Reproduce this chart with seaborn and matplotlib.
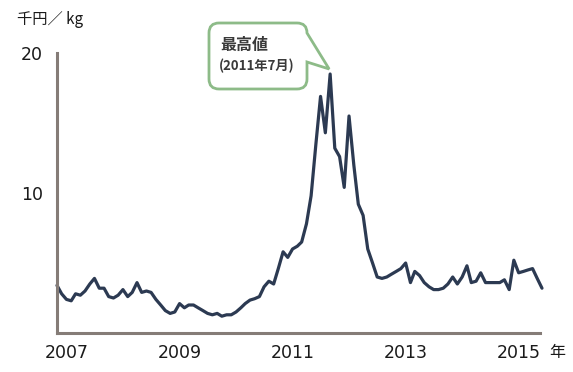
import numpy as np
import pandas as pd
import matplotlib
matplotlib.use("Agg")
import matplotlib.pyplot as plt
import matplotlib.dates as mdates
import matplotlib.patches as mpatches
from matplotlib import font_manager
from matplotlib.path import Path
from matplotlib.transforms import IdentityTransform
import seaborn as sns

# Monthly price, thousand yen per kg, Nov 2006 - Jun 2015
start_month = "2006-11"
price = [
    3.4, 2.8, 2.4, 2.3, 2.8, 2.7, 3.0, 3.5, 3.9, 3.2,
    3.2, 2.6, 2.5, 2.7, 3.1, 2.6, 2.9, 3.6, 2.9, 3.0,
    2.9, 2.4, 2.0, 1.6, 1.4, 1.5, 2.1, 1.8, 2.0, 2.0,
    1.8, 1.6, 1.4, 1.3, 1.4, 1.2, 1.3, 1.3, 1.5, 1.8,
    2.1, 2.35, 2.45, 2.6, 3.3, 3.7, 3.5, 4.6, 5.8, 5.4,
    6.0, 6.2, 6.5, 7.8, 9.8, 13.5, 16.9, 14.3, 18.5, 13.2,
    12.6, 10.4, 15.5, 12.0, 9.2, 8.4, 6.0, 5.0, 4.0, 3.9,
    4.0, 4.2, 4.4, 4.6, 5.0, 3.6, 4.4, 4.1, 3.6, 3.3,
    3.1, 3.1, 3.2, 3.5, 4.0, 3.5, 4.0, 4.8, 3.6, 3.7,
    4.3, 3.6, 3.6, 3.6, 3.6, 3.8, 3.1, 5.2, 4.3, 4.4,
    4.5, 4.6, 3.9, 3.2,
]
tick_years = [2007, 2009, 2011, 2013, 2015]
y_ticks = [10, 20]
unit_label = "千円／ kg"
year_label = "年"
callout_title = "最高値"
callout_sub = "(2011年7月)"

dates = pd.date_range(start_month, periods=len(price), freq="MS")
df = pd.DataFrame({"date": dates, "price": price})

sns.set_style("white")
installed = {f.name for f in font_manager.fontManager.ttflist}
num_font = "DejaVu Sans Condensed" if "DejaVu Sans Condensed" in installed else "DejaVu Sans"
plt.rcParams["font.family"] = [num_font, "Noto Sans CJK JP"]
jp = ["Noto Sans CJK JP", "DejaVu Sans"]

W, H = 573, 372
fig = plt.figure(figsize=(W / 100, H / 100), dpi=100)
ax = fig.add_axes([57 / W, (H - 333) / H, (542 - 57) / W, (333 - 53) / H])

line_color = "#2c3a52"
spine_color = "#857c77"

sns.lineplot(data=df, x="date", y="price", ax=ax, color=line_color,
             linewidth=2.3, clip_on=False)

x0 = mdates.date2num(dates[0])
x1 = mdates.date2num(dates[-1])
ax.set_xlim(x0, x1)
ax.set_ylim(0, 20)
ax.set_xlabel("")
ax.set_ylabel("")

ax.set_xticks([mdates.date2num(pd.Timestamp(f"{y}-01-01")) for y in tick_years])
ax.set_xticklabels([str(y) for y in tick_years])
ax.set_yticks(y_ticks)
ax.set_yticklabels([str(v) for v in y_ticks])
ax.tick_params(axis="x", length=0, pad=8, labelsize=12.5, labelcolor="#1a1a1a")
ax.tick_params(axis="y", length=0, pad=10, labelsize=12.5, labelcolor="#1a1a1a")

for side in ["top", "right"]:
    ax.spines[side].set_visible(False)
for side in ["left", "bottom"]:
    ax.spines[side].set_color(spine_color)
    ax.spines[side].set_linewidth(2.2)
ax.spines["bottom"].set_bounds(x0, x1 - 12)

# Unit and year labels
fig.text(17 / W, (H - 19) / H, unit_label, family=jp, fontsize=11,
         color="#1a1a1a", va="center", ha="left")
fig.text(549 / W, (H - 352) / H, year_label, family=jp, fontsize=11.5,
         color="#1a1a1a", va="center", ha="left")

# Speech-bubble callout pointing at the highest price
fig.canvas.draw()
imax = int(np.argmax(price))
tip = ax.transData.transform((mdates.date2num(dates[imax]), price[imax]))
tip_x, tip_y = tip[0] - 1, tip[1] + 5

L, R, T, B, r = 209, 307, H - 23, H - 89, 10
verts = [
    (L + r, T), (R - r, T), (R, T), (R, T - r),
    (tip_x, tip_y), (R, T - 39),
    (R, B + r), (R, B), (R - r, B),
    (L + r, B), (L, B), (L, B + r),
    (L, T - r), (L, T), (L + r, T),
    (L + r, T),
]
codes = [
    Path.MOVETO, Path.LINETO, Path.CURVE3, Path.CURVE3,
    Path.LINETO, Path.LINETO,
    Path.LINETO, Path.CURVE3, Path.CURVE3,
    Path.LINETO, Path.CURVE3, Path.CURVE3,
    Path.LINETO, Path.CURVE3, Path.CURVE3,
    Path.CLOSEPOLY,
]
bubble = mpatches.PathPatch(Path(verts, codes), facecolor="white",
                            edgecolor="#8dbb88", linewidth=2.0,
                            transform=IdentityTransform(), zorder=5)
fig.patches.append(bubble)

fig.text(220 / W, (H - 45) / H, callout_title, family=jp, fontsize=11.5,
         fontweight="bold", color="#3a3a3a", va="center", ha="left", zorder=6)
fig.text(219 / W, (H - 66) / H, callout_sub, family=jp, fontsize=9.5,
         fontweight="bold", color="#3a3a3a", va="center", ha="left", zorder=6)

fig.savefig("out.png", dpi=100)
